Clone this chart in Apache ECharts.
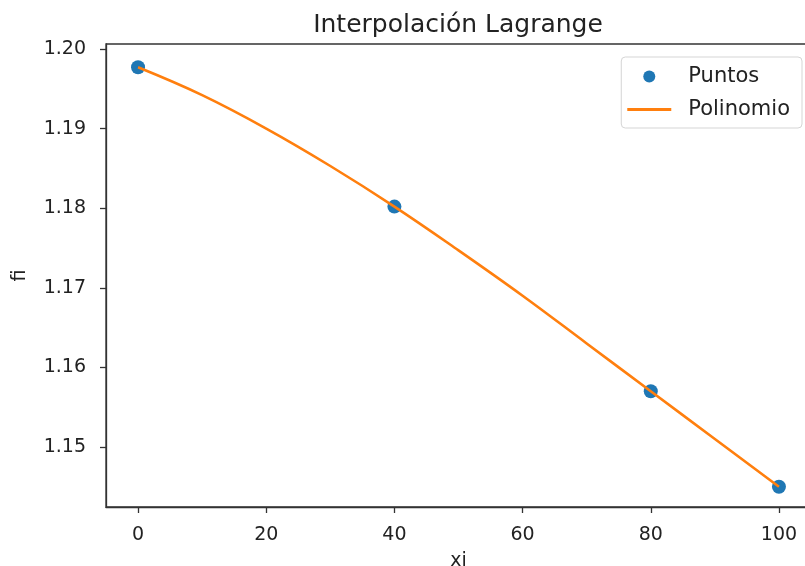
<!DOCTYPE html>
<html>
<head>
<meta charset="utf-8">
<script src="https://cdn.jsdelivr.net/npm/echarts@6/dist/echarts.min.js"></script>
<style>html,body{margin:0;padding:0;background:#fff;}#main{width:805px;height:566px;}</style>
</head>
<body>
<div id="main"></div>
<script>
// Data
const pointX = [0, 40, 80, 100];
const pointY = [1.1977, 1.1802, 1.1570, 1.1450];
const curveX = [0, 10, 20, 30, 40, 50, 60, 70, 80, 90, 100];
const curveY = [1.1977, 1.1942, 1.1900, 1.1853, 1.1802, 1.1747, 1.1690, 1.1630, 1.1570, 1.1510, 1.1450];
const xTicks = [0, 20, 40, 60, 80, 100];
const yTicks = [1.15, 1.16, 1.17, 1.18, 1.19, 1.20];
const titleText = 'Interpolación Lagrange';
const seriesNames = ['Puntos', 'Polinomio'];

const font = 'DejaVu Sans';
const chart = echarts.init(document.getElementById('main'), null, {renderer: 'canvas'});
chart.setOption({
  animation: false,
  backgroundColor: '#fff',
  title: {
    text: titleText, left: 453, top: 8, textAlign: 'center',
    textStyle: {fontFamily: font, fontSize: 25, fontWeight: 'normal', color: '#222'}
  },
  legend: {
    orient: 'vertical', right: 3, top: 57,
    borderColor: '#d5d5d5', borderWidth: 1, borderRadius: 4,
    padding: [9, 12, 8, 6], itemGap: 12, itemWidth: 44, itemHeight: 12,
    textStyle: {fontFamily: font, fontSize: 21, color: '#222', padding: [0, 0, 0, 12]},
    data: [
      {name: seriesNames[0], icon: 'circle'},
      {name: seriesNames[1], icon: 'path://M0,0 L44,0 L44,3 L0,3 Z'}
    ]
  },
  grid: {
    left: 106, top: 44, width: 705, height: 463,
    outerBoundsMode: 'none', containLabel: false,
    show: true, borderColor: '#333', borderWidth: 1.3, backgroundColor: 'transparent'
  },
  xAxis: {
    type: 'value', min: -5, max: 105,
    name: 'xi', nameLocation: 'middle', nameGap: 45,
    nameTextStyle: {fontFamily: font, fontSize: 19, color: '#222'},
    splitLine: {show: false},
    axisLine: {show: true, onZero: false, lineStyle: {color: '#333', width: 1.3}},
    axisTick: {show: true, length: 6, customValues: xTicks, lineStyle: {color: '#333', width: 1.3}},
    axisLabel: {customValues: xTicks, margin: 19, fontFamily: font, fontSize: 19, color: '#222'}
  },
  yAxis: {
    type: 'value', min: 1.14245, max: 1.20063,
    name: 'fi', nameLocation: 'middle', nameGap: 76, nameRotate: 90,
    nameTextStyle: {fontFamily: font, fontSize: 19, color: '#222'},
    splitLine: {show: false},
    axisLine: {show: true, onZero: false, lineStyle: {color: '#333', width: 1.3}},
    axisTick: {show: true, length: 6, customValues: yTicks, lineStyle: {color: '#333', width: 1.3}},
    axisLabel: {customValues: yTicks, margin: 20, fontFamily: font, fontSize: 19, color: '#222',
      formatter: v => v.toFixed(2)}
  },
  series: [
    {
      name: seriesNames[0], type: 'scatter', symbol: 'circle', symbolSize: 14, z: 2,
      itemStyle: {color: '#1f77b4', opacity: 1},
      data: pointX.map((x, i) => [x, pointY[i]])
    },
    {
      name: seriesNames[1], type: 'line', smooth: 0.4, showSymbol: false, symbol: 'none', z: 3,
      lineStyle: {color: '#ff7f0e', width: 2.6},
      itemStyle: {color: '#ff7f0e'},
      data: curveX.map((x, i) => [x, curveY[i]])
    }
  ]
});
</script>
</body>
</html>
